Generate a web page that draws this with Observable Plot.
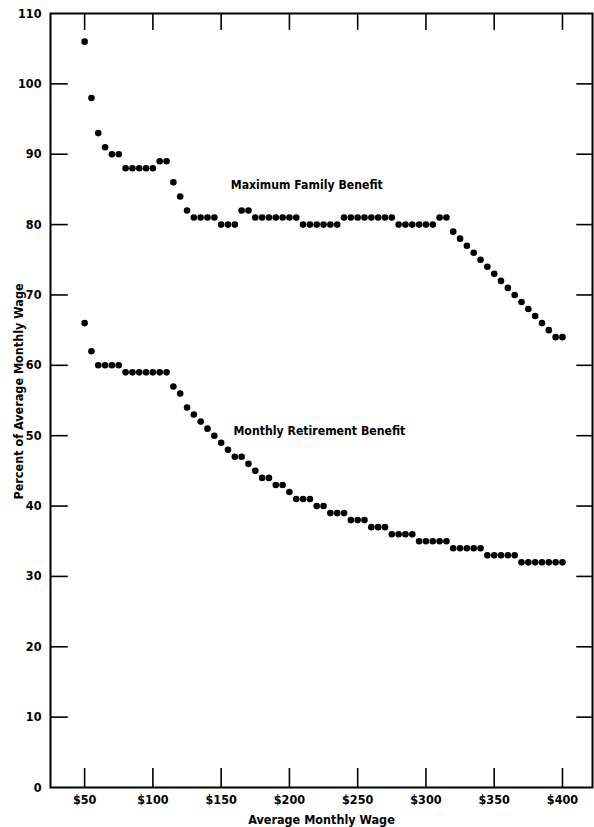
<!DOCTYPE html>
<html><head><meta charset="utf-8">
<script src="https://cdn.jsdelivr.net/npm/d3@7"></script>
<script src="https://cdn.jsdelivr.net/npm/@observablehq/plot@0.6"></script>
<style>body{margin:0;background:#fff}</style>
</head><body><div id="chart"></div>
<script>
const wages = [50,55,60,65,70,75,80,85,90,95,100,105,110,115,120,125,130,135,140,145,150,155,160,165,170,175,180,185,190,195,200,205,210,215,220,225,230,235,240,245,250,255,260,265,270,275,280,285,290,295,300,305,310,315,320,325,330,335,340,345,350,355,360,365,370,375,380,385,390,395,400];
const familyBenefit = [106,98,93,91,90,90,88,88,88,88,88,89,89,86,84,82,81,81,81,81,80,80,80,82,82,81,81,81,81,81,81,81,80,80,80,80,80,80,81,81,81,81,81,81,81,81,80,80,80,80,80,80,81,81,79,78,77,76,75,74,73,72,71,70,69,68,67,66,65,64,64];
const retirementBenefit = [66,62,60,60,60,60,59,59,59,59,59,59,59,57,56,54,53,52,51,50,49,48,47,47,46,45,44,44,43,43,42,41,41,41,40,40,39,39,39,38,38,38,37,37,37,36,36,36,36,35,35,35,35,35,34,34,34,34,34,33,33,33,33,33,32,32,32,32,32,32,32];
const xTicks = [50,100,150,200,250,300,350,400];
const yTicks = [0,10,20,30,40,50,60,70,80,90,100,110];
const seriesLabels = [
  {name: "Maximum Family Benefit", wage: 157, pct: 85.6},
  {name: "Monthly Retirement Benefit", wage: 159, pct: 50.7}
];
const xTitle = "Average Monthly Wage";
const yTitle = "Percent of Average Monthly Wage";

const xDomain = [25, 422];
const yDomain = [0, 110];
const family = wages.map((w, i) => ({wage: w, pct: familyBenefit[i]}));
const retire = wages.map((w, i) => ({wage: w, pct: retirementBenefit[i]}));
const innerY = yTicks.filter(d => d > 0 && d < 110);

const font = "'DejaVu Sans Condensed', 'Liberation Sans Narrow', sans-serif";
const chart = Plot.plot({
  width: 594, height: 827,
  marginLeft: 50, marginRight: 2, marginTop: 13, marginBottom: 40,
  x: {domain: xDomain},
  y: {domain: yDomain},
  style: {fontFamily: font, fontSize: "12px", fontWeight: "bold", color: "#000", background: "#fff"},
  marks: [
    Plot.frame({stroke: "#000", strokeWidth: 2}),
    Plot.ruleX(xTicks, {x: d => d, y1: 0, y2: 2.7, stroke: "#000", strokeWidth: 1.6}),
    Plot.ruleX(xTicks, {x: d => d, y1: 110, y2: 107.6, stroke: "#000", strokeWidth: 1.6}),
    Plot.ruleY(innerY, {y: d => d, x1: xDomain[0], x2: xDomain[0] + 13, stroke: "#000", strokeWidth: 1.6}),
    Plot.ruleY(innerY, {y: d => d, x1: xDomain[1] - 11.5, x2: xDomain[1], stroke: "#000", strokeWidth: 1.6}),
    Plot.axisX(xTicks, {tickSize: 0, tickPadding: 8, tickFormat: d => "$" + d, fontWeight: "bold", fontSize: 12.5,
      label: xTitle, labelAnchor: "center", labelArrow: "none", labelOffset: 36}),
    Plot.axisY(yTicks, {tickSize: 0, tickPadding: 9, fontWeight: "bold", fontSize: 12.5, label: null}),
    Plot.text([yTitle], {text: d => d, frameAnchor: "left", textAnchor: "middle", lineAnchor: "middle",
      rotate: -90, dx: -32, dy: -9, fontSize: 12.5, fontWeight: "bold", fill: "#000"}),
    Plot.dot(family, {x: "wage", y: "pct", r: 3.3, fill: "#000", stroke: "none"}),
    Plot.dot(retire, {x: "wage", y: "pct", r: 3.3, fill: "#000", stroke: "none"}),
    Plot.text(seriesLabels, {x: "wage", y: "pct", text: "name", textAnchor: "start", fontSize: 12.2, fontWeight: "bold", fill: "#000"})
  ]
});
document.getElementById("chart").appendChild(chart);
</script>
</body></html>
